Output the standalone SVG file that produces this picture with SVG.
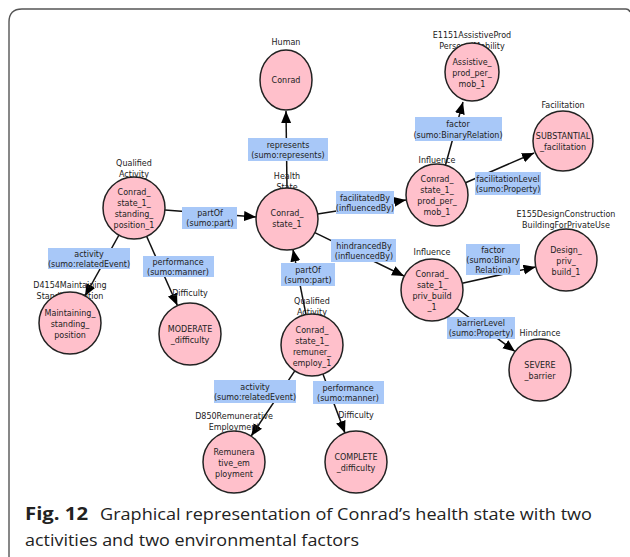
<svg xmlns="http://www.w3.org/2000/svg" width="630" height="557" viewBox="0 0 630 557">
<style>
.n{fill:#ffc0cb;stroke:#222;stroke-width:1.5}
.t{font-family:"DejaVu Sans",sans-serif;font-size:8px;fill:#222;text-anchor:middle}
.lb{fill:#a8c8f8}
.e{stroke:#111;stroke-width:1.5;fill:none;marker-end:url(#ah)}
.cap{font-family:"Open Sans","Noto Sans",sans-serif;font-size:17px;fill:#222}
</style>
<defs>
<marker id="ah" markerUnits="userSpaceOnUse" markerWidth="14" markerHeight="12" refX="12" refY="5" orient="auto">
<path d="M0,0 L12,5 L0,10 Z" fill="#000"/>
</marker>
</defs>
<rect width="630" height="557" fill="#fff"/>
<path d="M9,557 L9,22 Q9,9 22,9 L626,9 Q629,9 630,12" fill="none" stroke="#555" stroke-width="1.4"/>

<g id="connectors">
<line class="e" x1="287" y1="188" x2="286" y2="111"/>
<line class="e" x1="445.5" y1="165" x2="463" y2="102"/>
<line class="e" x1="465.5" y1="182.7" x2="534" y2="153"/>
<line class="e" x1="317.6" y1="214" x2="406" y2="200"/>
<line class="e" x1="165" y1="210" x2="256" y2="217"/>
<line class="e" x1="314.8" y1="232.6" x2="404" y2="276"/>
<line class="e" x1="462.2" y1="283.2" x2="535.5" y2="267"/>
<line class="e" x1="119" y1="235" x2="85" y2="296"/>
<line class="e" x1="146.6" y1="236.3" x2="177.4" y2="305.5"/>
<line class="e" x1="306" y1="314.6" x2="293" y2="249.5"/>
<line class="e" x1="457" y1="308.5" x2="515" y2="351.5"/>
<line class="e" x1="294.8" y1="370.8" x2="251.2" y2="436"/>
<line class="e" x1="322.9" y1="374" x2="345" y2="433"/>
</g>

<g id="edge-labels">
<g id="lbl-represents"><rect class="lb" x="248" y="138" width="80" height="23"/><text class="t" x="288" y="148">represents</text><text class="t" x="288" y="158">(sumo:represents)</text></g>
<g id="lbl-factor1"><rect class="lb" x="415" y="117" width="87" height="24"/><text class="t" x="458" y="127">factor</text><text class="t" x="458" y="138">(sumo:BinaryRelation)</text></g>
<g id="lbl-facilitationLevel"><rect class="lb" x="475" y="172" width="66" height="23"/><text class="t" x="508" y="182">facilitationLevel</text><text class="t" x="508" y="192">(sumo:Property)</text></g>
<g id="lbl-facilitatedBy"><rect class="lb" x="336" y="191" width="58" height="23"/><text class="t" x="365" y="201">facilitatedBy</text><text class="t" x="365" y="211">(influencedBy)</text></g>
<g id="lbl-partOf1"><rect class="lb" x="182" y="207" width="55" height="22"/><text class="t" x="210" y="216">partOf</text><text class="t" x="210" y="226">(sumo:part)</text></g>
<g id="lbl-hindrancedBy"><rect class="lb" x="331" y="239" width="65" height="23"/><text class="t" x="364" y="249">hindrancedBy</text><text class="t" x="364" y="259">(influencedBy)</text></g>
<g id="lbl-factor2"><rect class="lb" x="466" y="244" width="54" height="31"/><text class="t" x="493" y="253">factor</text><text class="t" x="493" y="263">(sumo:Binary</text><text class="t" x="493" y="273">Relation)</text></g>
<g id="lbl-activity1"><rect class="lb" x="48" y="248" width="82" height="21"/><text class="t" x="89" y="257">activity</text><text class="t" x="89" y="267">(sumo:relatedEvent)</text></g>
<g id="lbl-performance1"><rect class="lb" x="143" y="256" width="71" height="21"/><text class="t" x="178" y="265">performance</text><text class="t" x="178" y="275">(sumo:manner)</text></g>
<g id="lbl-partOf2"><rect class="lb" x="281" y="263" width="54" height="23"/><text class="t" x="308" y="273">partOf</text><text class="t" x="308" y="283">(sumo:part)</text></g>
<g id="lbl-barrierLevel"><rect class="lb" x="447" y="317" width="68" height="22"/><text class="t" x="481" y="326">barrierLevel</text><text class="t" x="481" y="336">(sumo:Property)</text></g>
<g id="lbl-activity2"><rect class="lb" x="214" y="380" width="82" height="23"/><text class="t" x="255" y="390">activity</text><text class="t" x="255" y="400">(sumo:relatedEvent)</text></g>
<g id="lbl-performance2"><rect class="lb" x="313" y="381" width="71" height="23"/><text class="t" x="348" y="391">performance</text><text class="t" x="348" y="401">(sumo:manner)</text></g>
</g>

<g id="node-conrad"><text class="t" x="286" y="45">Human</text><ellipse class="n" cx="286" cy="80" rx="26" ry="30"/><text class="t" x="286" y="83">Conrad</text></g>
<g id="node-assistive"><text class="t" x="472" y="38">E1151AssistiveProd</text><text class="t" x="472" y="49">PersonalMobility</text><ellipse class="n" cx="472" cy="72" rx="27" ry="29"/><text class="t" x="472" y="65">Assistive_</text><text class="t" x="472" y="76">prod_per_</text><text class="t" x="472" y="87">mob_1</text></g>
<g id="node-substantial"><text class="t" x="563" y="108">Facilitation</text><ellipse class="n" cx="563" cy="141" rx="30" ry="30"/><text class="t" x="563" y="139">SUBSTANTIAL</text><text class="t" x="563" y="150">_facilitation</text></g>
<g id="node-prodmob"><text class="t" x="437" y="163">Influence</text><ellipse class="n" cx="437" cy="195" rx="31" ry="31"/><text class="t" x="437" y="182">Conrad_</text><text class="t" x="437" y="193">state_1_</text><text class="t" x="437" y="204">prod_per_</text><text class="t" x="437" y="215">mob_1</text></g>
<g id="node-state1"><text class="t" x="287" y="179">Health</text><text class="t" x="287" y="190">State</text><ellipse class="n" cx="287" cy="219" rx="31" ry="31"/><text class="t" x="287" y="216">Conrad_</text><text class="t" x="287" y="227">state_1</text></g>
<g id="node-standing"><text class="t" x="134" y="166">Qualified</text><text class="t" x="134" y="177">Activity</text><ellipse class="n" cx="134" cy="208" rx="31" ry="31"/><text class="t" x="134" y="195">Conrad_</text><text class="t" x="134" y="206">state_1_</text><text class="t" x="134" y="217">standing_</text><text class="t" x="134" y="228">position_1</text></g>
<g id="node-design"><text class="t" x="566" y="217">E155DesignConstruction</text><text class="t" x="566" y="228">BuildingForPrivateUse</text><ellipse class="n" cx="566" cy="260" rx="31" ry="31"/><text class="t" x="566" y="253">Design_</text><text class="t" x="566" y="264">priv_</text><text class="t" x="566" y="275">build_1</text></g>
<g id="node-privbuild"><text class="t" x="432" y="255">Influence</text><ellipse class="n" cx="432" cy="290" rx="31" ry="31"/><text class="t" x="432" y="277">Conrad_</text><text class="t" x="432" y="288">sate_1_</text><text class="t" x="432" y="299">priv_build</text><text class="t" x="432" y="310">_1</text></g>
<g id="node-maintaining"><text class="t" x="70" y="288">D4154Maintaining</text><text class="t" x="70" y="299">StandingPosition</text><ellipse class="n" cx="70" cy="323" rx="31" ry="31"/><text class="t" x="70" y="316">Maintaining_</text><text class="t" x="70" y="327">standing_</text><text class="t" x="70" y="338">position</text></g>
<g id="node-moderate"><text class="t" x="190" y="296">Difficulty</text><ellipse class="n" cx="190" cy="334" rx="31" ry="31"/><text class="t" x="190" y="332">MODERATE</text><text class="t" x="190" y="343">_difficulty</text></g>
<g id="node-remuner"><text class="t" x="312" y="304">Qualified</text><text class="t" x="312" y="315">Activity</text><ellipse class="n" cx="312" cy="345" rx="31" ry="31"/><text class="t" x="312" y="333">Conrad_</text><text class="t" x="312" y="344">state_1_</text><text class="t" x="312" y="355">remuner_</text><text class="t" x="312" y="366">employ_1</text></g>
<g id="node-severe"><text class="t" x="540" y="336">Hindrance</text><ellipse class="n" cx="540" cy="370" rx="31" ry="31"/><text class="t" x="540" y="368">SEVERE</text><text class="t" x="540" y="379">_barrier</text></g>
<g id="node-remunerative"><text class="t" x="234" y="419">D850Remunerative</text><text class="t" x="234" y="430">Employment</text><ellipse class="n" cx="234" cy="462" rx="31" ry="31"/><text class="t" x="234" y="455">Remunera</text><text class="t" x="234" y="466">tive_em</text><text class="t" x="234" y="477">ployment</text></g>
<g id="node-complete"><text class="t" x="356" y="418">Difficulty</text><ellipse class="n" cx="356" cy="462" rx="31" ry="31"/><text class="t" x="356" y="460">COMPLETE</text><text class="t" x="356" y="471">_difficulty</text></g>

<g id="caption">
<text class="cap" x="25" y="520" font-weight="bold" font-size="18" textLength="63" lengthAdjust="spacingAndGlyphs">Fig. 12</text>
<text class="cap" x="100" y="520" textLength="492" lengthAdjust="spacingAndGlyphs">Graphical representation of Conrad’s health state with two</text>
<text class="cap" x="25" y="546" textLength="334" lengthAdjust="spacingAndGlyphs">activities and two environmental factors</text>
</g>
</svg>
